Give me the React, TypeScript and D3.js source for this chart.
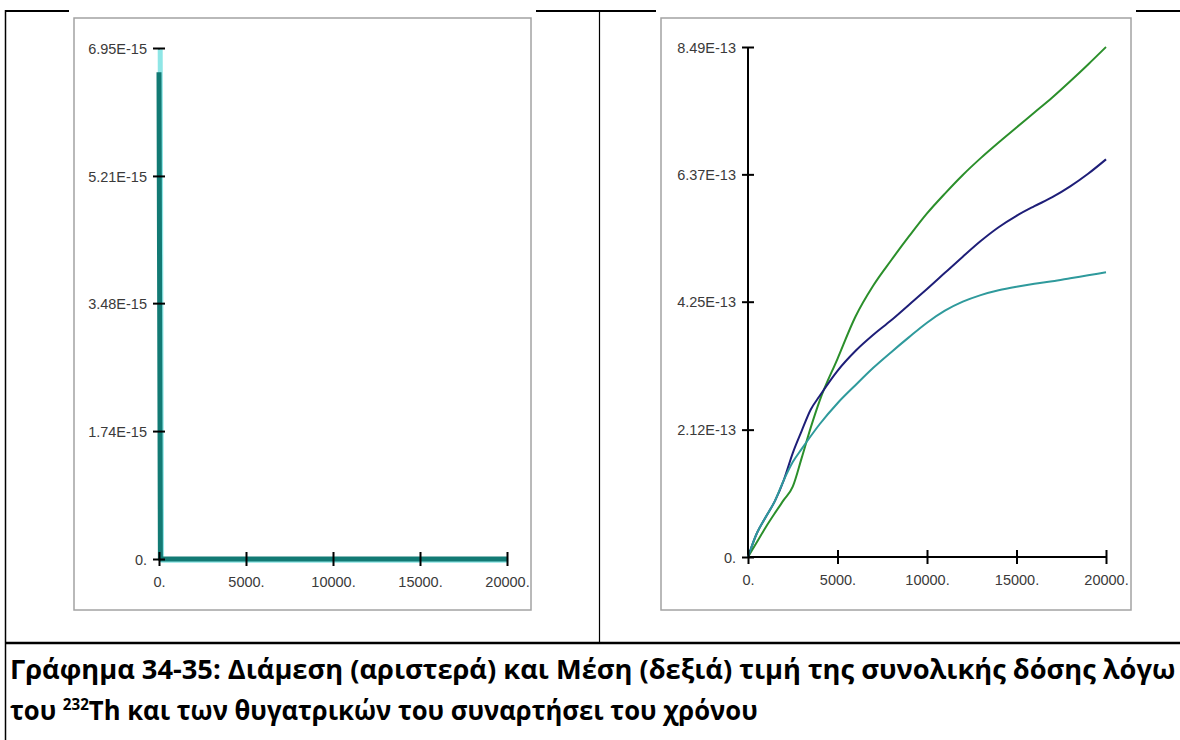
import React, { useRef, useEffect } from "react";
import * as d3 from "d3";

// shared time axis
const xTickValues = [0, 5000, 10000, 15000, 20000];
const xTickLabels = ["0.", "5000.", "10000.", "15000.", "20000."];

// left panel (median), values in units of 1e-15
const leftYTickValues = [0, 1.74, 3.48, 5.21, 6.95];
const leftYTickLabels = ["0.", "1.74E-15", "3.48E-15", "5.21E-15", "6.95E-15"];
const medianTime = [0, 80, 20000];
const medianUpper = [6.95, 0, 0];
const medianLower = [6.62, 0, 0];

// right panel (mean), values in units of 1e-13
const rightYTickValues = [0, 2.12, 4.25, 6.37, 8.49];
const rightYTickLabels = ["0.", "2.12E-13", "4.25E-13", "6.37E-13", "8.49E-13"];
const meanTime = [
  0, 500, 1000, 1500, 2000, 2500, 3000, 3500, 4000, 5000, 6000, 7000, 8000,
  9000, 10000, 11000, 12000, 13000, 14000, 15000, 16000, 17000, 18000, 19000,
  20000,
];
const meanGreen = [
  0, 0.25, 0.5, 0.73, 0.95, 1.17, 1.65, 2.15, 2.6, 3.3, 4.0, 4.52, 4.94,
  5.34, 5.72, 6.05, 6.36, 6.64, 6.9, 7.15, 7.4, 7.65, 7.92, 8.2, 8.49,
];
const meanNavy = [
  0, 0.4, 0.67, 0.93, 1.28, 1.73, 2.1, 2.45, 2.68, 3.1, 3.43, 3.7, 3.94, 4.2,
  4.46, 4.73, 5.0, 5.26, 5.49, 5.68, 5.84, 5.99, 6.17, 6.38, 6.62,
];
const meanTeal = [
  0, 0.4, 0.67, 0.93, 1.28, 1.58, 1.8, 2.01, 2.21, 2.56, 2.86, 3.15, 3.41,
  3.66, 3.9, 4.1, 4.25, 4.36, 4.44, 4.5, 4.55, 4.59, 4.64, 4.69, 4.74,
];

const captionLine1 =
  "Γράφημα 34-35: Διάμεση (αριστερά) και Μέση (δεξιά) τιμή της συνολικής δόσης λόγω";
const captionLine2a = "του ";
const captionSup = "232";
const captionLine2b = "Th και των θυγατρικών του συναρτήσει του χρόνου";

const tickFont = "'Liberation Sans Narrow', 'Arial Narrow', 'Liberation Sans', sans-serif";

const App = () => {
  const svgRef = useRef<SVGSVGElement | null>(null);

  useEffect(() => {
    const svg = d3.select(svgRef.current);
    svg.selectAll("*").remove();

    // table grid
    const grid = svg.append("g").attr("stroke", "#000");
    grid.append("line").attr("x1", 5).attr("x2", 1180).attr("y1", 11).attr("y2", 11).attr("stroke-width", 2);
    grid.append("line").attr("x1", 5.5).attr("x2", 5.5).attr("y1", 10).attr("y2", 740).attr("stroke-width", 1.5);
    grid.append("line").attr("x1", 599.5).attr("x2", 599.5).attr("y1", 11).attr("y2", 643).attr("stroke-width", 1.2);
    grid.append("line").attr("x1", 5).attr("x2", 1180).attr("y1", 643).attr("y2", 643).attr("stroke-width", 2.5);

    const drawPanel = (opts: any) => {
      const g = svg.append("g");
      // screenshot background + grey frame
      g.append("rect")
        .attr("x", opts.frame[0] - 5).attr("y", 9)
        .attr("width", opts.frame[1] - opts.frame[0] + 10).attr("height", opts.frame[3] - 9 + 4)
        .attr("fill", "#fff");
      g.append("rect")
        .attr("x", opts.frame[0]).attr("y", opts.frame[2])
        .attr("width", opts.frame[1] - opts.frame[0]).attr("height", opts.frame[3] - opts.frame[2])
        .attr("fill", "#fff").attr("stroke", "#a3a3a3").attr("stroke-width", 1.5);

      const x = d3.scaleLinear().domain([0, 20000]).range(opts.xRange);
      const y = d3.scaleLinear().domain([0, opts.yMax]).range(opts.yRange);

      // axis lines below the curves
      g.append("line")
        .attr("x1", x(0)).attr("x2", x(20000)).attr("y1", y(0)).attr("y2", y(0))
        .attr("stroke", "#000").attr("stroke-width", 2);
      g.append("line")
        .attr("x1", x(0)).attr("x2", x(0)).attr("y1", y(0)).attr("y2", y(opts.yMax))
        .attr("stroke", "#000").attr("stroke-width", 2);

      opts.series.forEach((s: any) => {
        const line = d3
          .line<number>()
          .x((_, i) => x(s.t[i]))
          .y((d) => y(d))
          .curve(s.curve || d3.curveMonotoneX);
        g.append("path")
          .datum(s.v)
          .attr("d", line)
          .attr("fill", "none")
          .attr("stroke", s.color)
          .attr("stroke-width", s.width)
          .attr("stroke-linejoin", "round")
          .attr("transform", s.shift ? `translate(${s.shift},${s.shift})` : null);
      });

      // y axis ticks
      const yAxis = g
        .append("g")
        .attr("transform", `translate(${x(0)},0)`)
        .call(
          d3.axisLeft(y)
            .tickValues(opts.yTicks)
            .tickFormat((_, i) => opts.yLabels[i])
            .tickSizeOuter(0)
        );
      yAxis.select(".domain").remove();
      yAxis.selectAll(".tick line").attr("x1", -6).attr("x2", 6).attr("stroke", "#000").attr("stroke-width", 2);
      yAxis.selectAll(".tick text")
        .attr("x", -12).attr("dy", "0.36em")
        .style("font-family", tickFont).style("font-size", "14.5px").attr("fill", "#3a3a3a");

      // x axis ticks
      const xAxis = g
        .append("g")
        .attr("transform", `translate(0,${y(0)})`)
        .call(
          d3.axisBottom(x)
            .tickValues(xTickValues)
            .tickFormat((_, i) => xTickLabels[i])
            .tickSizeOuter(0)
        );
      xAxis.select(".domain").remove();
      xAxis.selectAll(".tick line").attr("y1", -7).attr("y2", 7).attr("stroke", "#000").attr("stroke-width", 2);
      xAxis.selectAll(".tick text")
        .attr("y", 28).attr("dy", "0")
        .style("font-family", tickFont).style("font-size", "14.5px").attr("fill", "#3a3a3a");
    };

    drawPanel({
      frame: [74, 531, 18, 610],
      xRange: [159, 507],
      yRange: [559, 48],
      yMax: 6.95,
      yTicks: leftYTickValues,
      yLabels: leftYTickLabels,
      series: [
        { t: medianTime, v: medianUpper, color: "#8fe6e6", width: 5, shift: 1.2, curve: d3.curveLinear },
        { t: medianTime, v: medianLower, color: "#127a74", width: 5, curve: d3.curveLinear },
      ],
    });

    drawPanel({
      frame: [661, 1131, 18, 610],
      xRange: [748, 1106],
      yRange: [557, 47],
      yMax: 8.49,
      yTicks: rightYTickValues,
      yLabels: rightYTickLabels,
      series: [
        { t: meanTime, v: meanGreen, color: "#2b8f2b", width: 2 },
        { t: meanTime, v: meanNavy, color: "#1e1e78", width: 2 },
        { t: meanTime, v: meanTeal, color: "#2f9a9c", width: 2 },
      ],
    });

    // caption: each line drawn at natural width, then squeezed horizontally to its span
    const captionStyle = (sel: any) =>
      sel
        .style("font-family", "'Open Sans', 'Noto Sans', sans-serif")
        .style("font-weight", 700)
        .style("font-size", "27px")
        .attr("fill", "#000");

    const g1 = captionStyle(svg.append("g"));
    const t1 = g1.append("text").attr("x", 0).attr("y", 0).text(captionLine1);
    const w1 = (t1.node() as SVGTextElement).getComputedTextLength();
    g1.attr("transform", `translate(10,679) scale(${w1 > 0 ? 1166 / w1 : 1},1)`);

    const g2 = captionStyle(svg.append("g"));
    const t2 = g2.append("text").attr("x", 0).attr("y", 0);
    t2.append("tspan").text(captionLine2a);
    t2.append("tspan").attr("dy", -10).style("font-size", "16px").text(captionSup);
    t2.append("tspan").attr("dy", 10).text(captionLine2b);
    const w2 = (t2.node() as SVGTextElement).getComputedTextLength();
    g2.attr("transform", `translate(10,720) scale(${w2 > 0 ? 748 / w2 : 1},1)`);
  }, []);

  return (
    <svg
      ref={svgRef}
      width={1180}
      height={740}
      style={{ position: "absolute", left: 0, top: 0, background: "#fff" }}
    />
  );
};

export default App;
